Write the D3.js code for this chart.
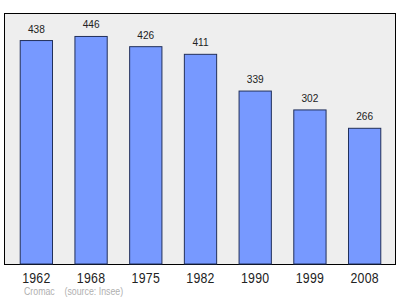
<!DOCTYPE html>
<html>
<head>
<meta charset="utf-8">
<script src="https://cdn.jsdelivr.net/npm/d3@7"></script>
<style>
  body { margin: 0; background: #fff; }
  text { font-family: "Liberation Sans", Arial, sans-serif; }
</style>
</head>
<body>
<div id="chart"></div>
<script>
// dades
const annees = ["1962", "1968", "1975", "1982", "1990", "1999", "2008"];
const population = [438, 446, 426, 411, 339, 302, 266];

const ample = 400, alt = 299;
const cadre = {gauche: 4.5, haut: 13.5, droite: 395.5, bas: 264.5};
const serrage = 0.88; // le texte d'origine est un peu comprimé en largeur

const svg = d3.select("#chart")
  .append("svg")
  .attr("width", ample)
  .attr("height", alt);

// fond du graphique
svg.append("rect")
  .attr("x", cadre.gauche)
  .attr("y", cadre.haut)
  .attr("width", cadre.droite - cadre.gauche)
  .attr("height", cadre.bas - cadre.haut)
  .attr("fill", "#eeeeee")
  .attr("stroke", "#000")
  .attr("stroke-width", 1);

const x = d3.scaleBand()
  .domain(annees)
  .range([9, 392])
  .paddingInner(0.41)
  .paddingOuter(0.205);

const y = d3.scaleLinear()
  .domain([0, 492])
  .range([264, 13]);

// barres
svg.selectAll(".barre")
  .data(population)
  .enter()
  .append("rect")
  .attr("class", "barre")
  .attr("x", (d, i) => x(annees[i]))
  .attr("y", d => y(d))
  .attr("width", x.bandwidth())
  .attr("height", d => y(0) - y(d))
  .attr("fill", "#7799ff")
  .attr("stroke", "#22305a")
  .attr("stroke-width", 1);

// valeurs au-dessus des barres
svg.selectAll(".valeur")
  .data(population)
  .enter()
  .append("text")
  .attr("class", "valeur")
  .attr("transform", (d, i) =>
    `translate(${x(annees[i]) + x.bandwidth() / 2}, ${y(d) - 8}) scale(${serrage}, 1)`)
  .attr("text-anchor", "middle")
  .attr("font-size", 11.5)
  .attr("fill", "#222")
  .text(d => d);

// axe des années
const axe = svg.append("g")
  .attr("transform", `translate(0, ${cadre.bas})`)
  .call(d3.axisBottom(x).tickSize(0).tickPadding(0));
axe.select(".domain").remove();
axe.selectAll("text")
  .attr("dy", null)
  .attr("y", 0)
  .attr("transform", `translate(0, 18) scale(${serrage}, 1)`)
  .attr("font-size", 14)
  .attr("font-family", "Liberation Sans, Arial, sans-serif")
  .attr("letter-spacing", 0.3)
  .attr("fill", "#222");

// source
svg.append("text")
  .attr("transform", `translate(24, 294.5) scale(${serrage}, 1)`)
  .attr("font-size", 10)
  .attr("fill", "#b0b0b0")
  .attr("xml:space", "preserve")
  .text("Cromac    (source: Insee)");
</script>
</body>
</html>
